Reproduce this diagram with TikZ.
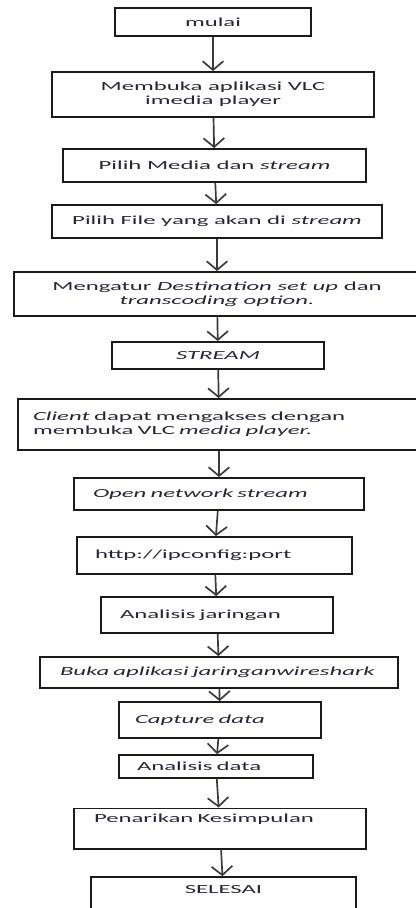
\documentclass[tikz,border=0pt]{standalone}
\definecolor{linedark}{HTML}{1a1a1a}
\definecolor{textdark}{HTML}{262636}
\definecolor{arrowgray}{HTML}{3a3a3a}
\usepackage{fontspec}
\setmainfont{Carlito}[FakeStretch=2.0]
\usepackage{tikz}
\usetikzlibrary{arrows.meta}

\begin{document}
\begin{tikzpicture}[
				box/.style={draw=linedark, line width=1.3pt, text=textdark, align=center, font=\fontsize{8.8pt}{9.8pt}\selectfont},
				lbox/.style={box, align=left, inner xsep=0.45cm},
				arrow/.style={-{Straight Barb[length=0.22cm, width=0.52cm]}, line width=1.2pt, color=arrowgray}
			]
			\useasboundingbox (0, 0) rectangle (10.4, -22.7);

			% Persiapan server
			\node[box, minimum width=4.9cm, minimum height=0.7cm] (mulai) at (5.325, -0.55) {mulai};
			\node[box, minimum width=8.05cm, minimum height=1.125cm] (bukavlc) at (5.325, -2.3625) {Membuka aplikasi VLC\\imedia player};
			\node[box, minimum width=7.575cm, minimum height=0.825cm] (media) at (5.3625, -4.1375) {Pilih Media dan \textit{stream}};
			\node[box, minimum width=8.25cm, minimum height=0.825cm] (file) at (5.425, -5.5375) {Pilih File yang akan di \textit{stream}};
			\node[box, minimum width=10.15cm, minimum height=1.1cm] (atur) at (5.425, -7.35) {Mengatur \textit{Destination set up} dan\\\textit{transcoding option.}};
			\node[box, minimum width=5.3cm, minimum height=0.675cm] (stream) at (5.45, -8.8875) {\textit{STREAM}};

			% Sisi client
			\node[lbox, inner xsep=0.375cm, text width=9.3cm, minimum height=1.275cm] (client) at (5.475, -10.6125) {\textit{Client} dapat mengakses dengan\\membuka VLC \textit{media player.}};
			\node[lbox, inner xsep=0.475cm, text width=6.3cm, minimum height=0.8cm] (open) at (5.475, -12.35) {\textit{Open network stream}};
			\node[lbox, text width=5.975cm, minimum height=0.925cm] (http) at (5.3625, -13.8875) {http://ipconfig:port};

			% Analisis
			\node[lbox, inner xsep=0.475cm, text width=4.85cm, minimum height=0.9cm] (anjar) at (5.425, -15.375) {Analisis jaringan};
			\node[lbox, inner xsep=0.5cm, text width=7.95cm, minimum height=0.775cm] (wire) at (5.475, -16.8125) {\mbox{\textit{Buka aplikasi jaringanwireshark}}};
			\node[lbox, inner xsep=0.4cm, text width=4.25cm, minimum height=0.9cm] (capture) at (5.5, -18.0) {\textit{Capture data}};
			\node[lbox, text width=3.95cm, minimum height=0.575cm] (andata) at (5.4, -19.1625) {Analisis data};
			\node[lbox, inner xsep=0.5cm, text width=6.3cm, text height=0.24cm, text depth=0.53cm] (tarik) at (5.5, -20.7125) {Penarikan Kesimpulan};
			\node[box, minimum width=6.625cm, text height=0.3cm, text depth=0.45cm] (selesai) at (5.5875, -22.42) {SELESAI};

			% Alur
			\draw[arrow] (mulai) -- (bukavlc);
			\draw[arrow] (bukavlc) -- (media);
			\draw[arrow] (media) -- (file);
			\draw[arrow] (file) -- (atur);
			\draw[arrow] (atur) -- (stream);
			\draw[arrow] (stream) -- (client);
			\draw[arrow] (client) -- (open);
			\draw[arrow] (open) -- (http);
			\draw[arrow] (http) -- (anjar);
			\draw[arrow] (anjar) -- (wire);
			\draw[arrow] (wire) -- (capture);
			\draw[arrow] (capture) -- (andata);
			\draw[arrow] (andata) -- (tarik);
			\draw[arrow] (tarik) -- (selesai);
		\end{tikzpicture}
\end{document}
